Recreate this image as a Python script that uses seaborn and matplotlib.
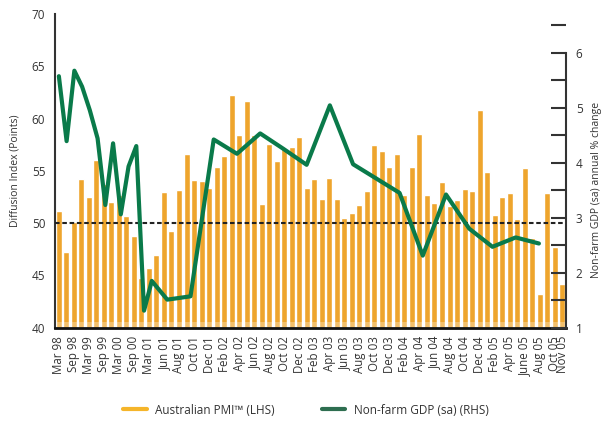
import matplotlib
matplotlib.use("Agg")
import matplotlib.pyplot as plt
from matplotlib.lines import Line2D
from matplotlib.ticker import MultipleLocator
import seaborn as sns
import pandas as pd

# ---------------- data ----------------
categories = [
    "Mar 98", "Jun 98", "Sep 98", "Dec 98", "Mar 99", "Jun 99", "Sep 99", "Dec 99",
    "Mar 00", "Jun 00", "Sep 00", "Dec 00", "Mar 01", "May 01",
    "Jun 01", "Jul 01", "Aug 01", "Sep 01", "Oct 01", "Nov 01", "Dec 01",
    "Jan 02", "Feb 02", "Mar 02", "Apr 02", "May 02", "Jun 02", "Jul 02", "Aug 02",
    "Sep 02", "Oct 02", "Nov 02", "Dec 02",
    "Jan 03", "Feb 03", "Mar 03", "Apr 03", "May 03", "Jun 03", "Jul 03", "Aug 03",
    "Sep 03", "Oct 03", "Nov 03", "Dec 03",
    "Jan 04", "Feb 04", "Mar 04", "Apr 04", "May 04", "Jun 04", "Jul 04", "Aug 04",
    "Sep 04", "Oct 04", "Nov 04", "Dec 04",
    "Jan 05", "Feb 05", "Mar 05", "Apr 05", "May 05", "June 05", "Jul 05", "Aug 05",
    "Sep 05", "Oct 05", "Nov 05",
]

pmi = [
    51.2, 47.2, 50.1, 54.2, 52.5, 56.0, 53.7, 52.0, 52.7, 50.7, 48.8, 44.8, 45.7, 47.0,
    53.0, 49.2, 53.2, 56.6, 54.1, 54.0, 53.4,
    55.4, 56.4, 62.3, 58.4, 61.7, 58.4, 51.8, 57.6, 55.9, 57.1, 57.3, 58.2,
    53.4, 54.2, 52.3, 54.3, 52.3, 50.5, 51.0, 51.7, 53.1, 57.5, 56.9, 55.4,
    56.6, 52.7, 55.4, 58.5, 52.7, 51.9, 53.9, 51.6, 52.2, 53.3, 53.1, 60.8,
    54.9, 50.8, 52.5, 52.9, 50.4, 55.3, 48.6, 43.2, 52.9, 47.7, 44.2,
]

# GDP (quarterly) on the secondary category axis (66 categories)
gdp_pos = [0, 1, 2, 3, 4, 5, 6, 7, 8, 9, 10, 11, 12,
           14, 17, 20, 23, 26, 29, 32, 35, 38, 41, 44, 47, 50, 53, 56, 59, 62]
gdp = [5.57, 4.39, 5.67, 5.38, 4.95, 4.44, 3.23, 4.35, 3.06, 3.93, 4.30, 1.31, 1.85,
       1.51, 1.57, 4.42, 4.16, 4.53, 4.25, 3.96, 5.04, 3.97, 3.71, 3.45, 2.31, 3.42,
       2.80, 2.47, 2.64, 2.53]
n_secondary = 66

left_ticks = [40, 45, 50, 55, 60, 65, 70]
right_ticks = [1, 2, 3, 4, 5, 6]
threshold = 50

# ---------------- style ----------------
sns.set_style("white")
plt.rcParams["font.family"] = ["Open Sans", "DejaVu Sans"]
TXT = "#333333"
ORANGE = "#EEA52D"
GREEN = "#0A7A4A"

fig = plt.figure(figsize=(6.02, 4.26), dpi=100)
rect = [55 / 602, 1 - 327.7 / 426, (566 - 55) / 602, (327.7 - 14) / 426]
ax = fig.add_axes(rect)

df = pd.DataFrame({"month": categories, "pmi": pmi})
sns.barplot(data=df, x="month", y="pmi", order=categories, color=ORANGE,
            saturation=1, width=0.8, ax=ax, zorder=2)
ax.set_xlim(-0.5, len(categories) - 0.5)
ax.set_ylim(left_ticks[0], left_ticks[-1])
ax.set_yticks(left_ticks)
ax.set_xlabel("")
ax.set_ylabel("Diffusion Index (Points)", fontsize=7.5, color=TXT, labelpad=8)

tick_idx = list(range(0, len(categories), 2)) + [len(categories) - 1]
ax.set_xticks(tick_idx)
ax.set_xticklabels([categories[i] for i in tick_idx], rotation=90, fontsize=8.3, color=TXT)
ax.tick_params(axis="x", length=0, pad=6)
ax.tick_params(axis="y", direction="in", length=11, width=1.5, color="#333333",
               labelsize=8.5, labelcolor=TXT, pad=7)

ax.axhspan(40, 40.55, color="white", alpha=0.3, zorder=2.5, lw=0)
ax.axhline(threshold, color="#222222", lw=1.5, ls=(0, (2.2, 1.3)), zorder=3)

for s in ["top", "right"]:
    ax.spines[s].set_visible(False)
ax.spines["left"].set_color("#333333")
ax.spines["left"].set_linewidth(1.5)
ax.spines["bottom"].set_color("#111111")
ax.spines["bottom"].set_linewidth(2)
ax.grid(False)

# secondary axis
ax2 = fig.add_axes(rect)
ax2.patch.set_visible(False)
gdf = pd.DataFrame({"pos": gdp_pos, "gdp": gdp})
sns.lineplot(data=gdf, x="pos", y="gdp", color=GREEN, lw=3, ax=ax2, zorder=5)
ax2.set_xlim(-0.5, n_secondary - 0.5)
ax2.set_ylim(1, 6.70)
ax2.xaxis.set_visible(False)
ax2.yaxis.tick_right()
ax2.yaxis.set_label_position("right")
ax2.set_yticks(right_ticks)
ax2.yaxis.set_minor_locator(MultipleLocator(0.5))
ax2.tick_params(axis="y", which="both", direction="in", length=11, width=1.5,
                color="#333333", labelsize=8.5, labelcolor=TXT, pad=7)
ax2.set_ylabel("Non-farm GDP (sa) annual % change", fontsize=7.5, color=TXT, labelpad=6)
ax2.yaxis.label.set_y((6 - 1) / 2 / (6.70 - 1) + 0.0)
for s in ["top", "left", "bottom"]:
    ax2.spines[s].set_visible(False)
ax2.spines["right"].set_bounds(1, 6)
ax2.spines["right"].set_color("#333333")
ax2.spines["right"].set_linewidth(1.5)
ax2.grid(False)

handles = [Line2D([], [], color="#F5B52A", lw=3),
           Line2D([], [], color="#2E6E50", lw=3)]
fig.legend(handles, ["Australian PMI\u2122 (LHS)", "Non-farm GDP (sa) (RHS)"],
           loc="center", bbox_to_anchor=(0.508, 1 - 410 / 426), ncol=2, frameon=False,
           fontsize=8.5, handlelength=2.0, handletextpad=0.7, columnspacing=4.0,
           labelcolor=TXT)

fig.savefig("out.png", dpi=100)
